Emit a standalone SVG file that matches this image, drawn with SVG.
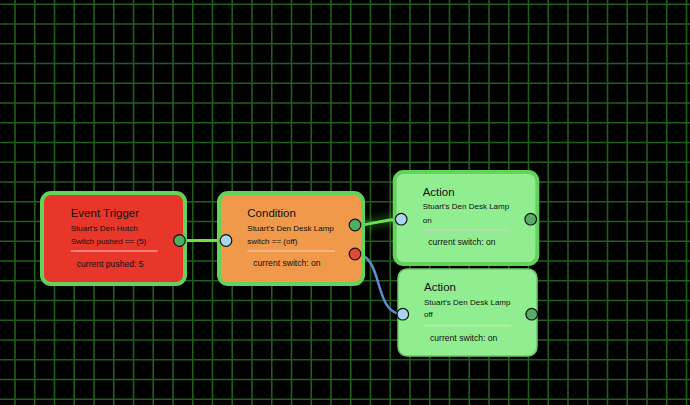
<svg xmlns="http://www.w3.org/2000/svg" width="690" height="405" viewBox="0 0 690 405">
<defs>
<filter id="glow" x="-50%" y="-200%" width="200%" height="500%"><feGaussianBlur stdDeviation="5"/></filter>
<style>
.grid{stroke:#215e1c;stroke-width:1.6;fill:none}
.box{stroke:#63d35a;stroke-width:4}
.t{font-family:"Liberation Sans",Arial,sans-serif;fill:#111}
.title{font-size:11.5px}
.sub{font-size:8px}
.cur{font-size:8.6px}
.port{stroke:#111;stroke-width:1.2}
.pg{fill:#4fae62}
.pb{fill:#a9d5f2}
.pr{fill:#e04a3a}
</style>
</defs>
<rect width="690" height="405" fill="#000"/>
<path class="grid" d="M15,0V405M34.75,0V405M54.5,0V405M74.25,0V405M94,0V405M113.75,0V405M133.5,0V405M153.25,0V405M173,0V405M192.75,0V405M212.5,0V405M232.25,0V405M252,0V405M271.75,0V405M291.5,0V405M311.25,0V405M331,0V405M350.75,0V405M370.5,0V405M390.25,0V405M410,0V405M429.75,0V405M449.5,0V405M469.25,0V405M489,0V405M508.75,0V405M528.5,0V405M548.25,0V405M568,0V405M587.75,0V405M607.5,0V405M627.25,0V405M647,0V405M666.75,0V405M686.5,0V405M0,4.3H690M0,24.05H690M0,43.8H690M0,63.55H690M0,83.3H690M0,103.05H690M0,122.8H690M0,142.55H690M0,162.3H690M0,182.05H690M0,201.8H690M0,221.55H690M0,241.3H690M0,261.05H690M0,280.8H690M0,300.55H690M0,320.3H690M0,340.05H690M0,359.8H690M0,379.55H690M0,399.3H690"/>
<g id="connectors" fill="none">
<path d="M180,240.5H226" stroke="#4ec83a" stroke-width="10" opacity="0.55" filter="url(#glow)"/>
<path d="M355,225 C378,225 378,219 401,219" stroke="#4ec83a" stroke-width="8" opacity="0.4" filter="url(#glow)"/>
<path d="M180,240.5H226" stroke="#6ae04e" stroke-width="3"/>
<path d="M355,225 C378,225 378,219.2 401,219.2" stroke="#6ae04e" stroke-width="3"/>
<path d="M355,254 C385,254 372,314.2 403,314.2" stroke="#5b8fcf" stroke-width="2.5"/>
</g>
<g id="event-trigger">
<rect class="box" x="42" y="193" width="143" height="91" rx="9" fill="#e8362a"/>
<text class="t title" x="70.7" y="217">Event Trigger</text>
<text class="t sub" x="70.7" y="230.7">Stuart's Den Hutch</text>
<text class="t sub" x="70.7" y="244.3">Switch pushed == (5)</text>
<line x1="70.7" y1="251" x2="157.7" y2="251" stroke="#f3c9bd" stroke-width="1"/>
<text class="t cur" x="76.7" y="266.7">current pushed: 5</text>
<circle class="port pg" cx="179.5" cy="240.5" r="5.8"/>
</g>
<g id="condition">
<rect class="box" x="219" y="193" width="144" height="91" rx="9" fill="#f0994b"/>
<text class="t title" x="247.3" y="216.7">Condition</text>
<text class="t sub" x="247.3" y="230.7">Stuart's Den Desk Lamp</text>
<text class="t sub" x="247.3" y="244">switch == (off)</text>
<line x1="247.3" y1="251" x2="335" y2="251" stroke="#f3d2bd" stroke-width="1"/>
<text class="t cur" x="253.3" y="266">current switch: on</text>
<circle class="port pb" cx="226" cy="240.5" r="5.8"/>
<circle class="port pg" cx="355" cy="225" r="5.8"/>
<circle class="port pr" cx="355" cy="254" r="5.8"/>
</g>
<g id="action-on">
<rect class="box" x="394.7" y="172" width="142.6" height="92" rx="9" fill="#90ee90"/>
<text class="t title" x="422.7" y="196">Action</text>
<text class="t sub" x="422.7" y="209.3">Stuart's Den Desk Lamp</text>
<text class="t sub" x="422.7" y="223.3">on</text>
<line x1="422.7" y1="230" x2="509.3" y2="230" stroke="#dcc8e0" stroke-width="1"/>
<text class="t cur" x="428.3" y="245">current switch: on</text>
<circle class="port pb" cx="401.2" cy="219.2" r="5.8"/>
<circle class="port" cx="530.7" cy="219.2" r="5.8" fill="#5aaa6a"/>
</g>
<g id="action-off">
<rect x="398" y="269" width="139" height="87" rx="9" fill="#90ee90" stroke="#6cc766" stroke-width="1.5"/>
<text class="t title" x="424" y="290.7">Action</text>
<text class="t sub" x="424" y="304.7">Stuart's Den Desk Lamp</text>
<text class="t sub" x="424" y="317.3">off</text>
<line x1="424" y1="325.7" x2="510.7" y2="325.7" stroke="#dcd8e4" stroke-width="1"/>
<text class="t cur" x="430" y="341.3">current switch: on</text>
<circle class="port pb" cx="402.8" cy="314.2" r="5.8"/>
<circle class="port" cx="531.7" cy="314.2" r="5.8" fill="#5aaa6a"/>
</g>
</svg>
